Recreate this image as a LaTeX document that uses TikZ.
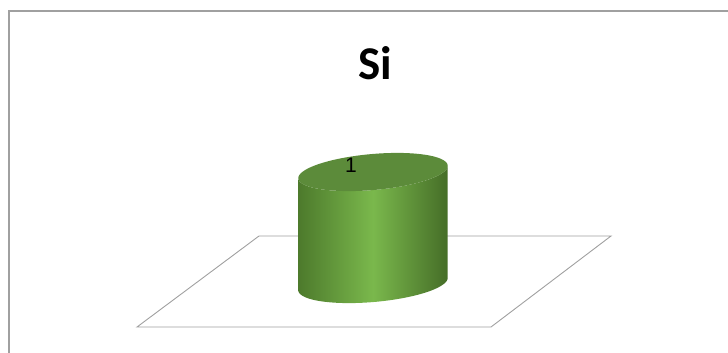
\documentclass[tikz,border=0pt]{standalone}
\usepackage{fontspec}
\setmainfont{Carlito}
\newfontfamily\valfont{Liberation Sans}
\usepackage{tikz}
\usetikzlibrary{positioning}
\definecolor{cylside}{RGB}{77,122,44}
\definecolor{cylmid}{RGB}{122,184,76}
\definecolor{cyltop}{RGB}{92,139,58}
\definecolor{framegray}{RGB}{160,160,160}

\begin{document}
\begin{tikzpicture}[
        x=1pt, y=-1pt,
        frame/.style={draw=framegray, line width=1.5pt},
        floor/.style={draw=framegray, line width=0.9pt},
        title/.style={font=\bfseries\fontsize{47}{50}\selectfont},
        vallabel/.style={font=\valfont\fontsize{21}{23}\selectfont}
    ]
        \useasboundingbox (0,0) rectangle (728,353);
        \clip (0,0) rectangle (728,353);

        % chart frame
        \draw[frame] (9,11) rectangle (760,380);

        % floor
        \draw[floor] (259,236) -- (611,236) -- (491,327) -- (137,327) -- cycle;

        % cylinder body
        \shade[left color=cylside, right color=cylside!90!black, middle color=cylmid]
            (298.3,178.5) -- (298.3,290.5)
            -- plot[domain=180:360, samples=60] ({373+74.71*cos(\x)-1.57*sin(\x)}, {284-6.54*cos(\x)-17.93*sin(\x)})
            -- (447.7,165.5)
            -- plot[domain=0:-180, samples=60] ({373+74.71*cos(\x)-1.57*sin(\x)}, {172-6.54*cos(\x)-17.93*sin(\x)})
            -- cycle;

        % cylinder top
        \fill[cyltop] plot[domain=0:360, samples=90] ({373+74.71*cos(\x)-1.57*sin(\x)}, {172-6.54*cos(\x)-17.93*sin(\x)}) -- cycle;

        \node[title] (tit) at (375,63) {Si};
        \node[vallabel] (val) at (351,165) {1};
    \end{tikzpicture}
\end{document}
